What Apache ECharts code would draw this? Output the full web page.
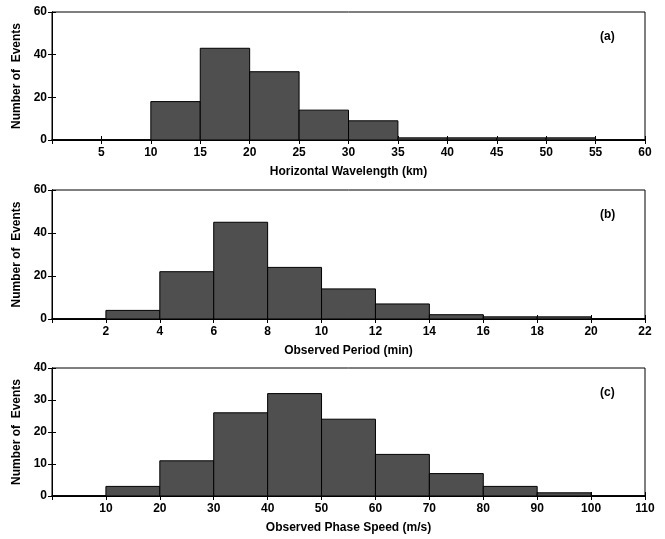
<!DOCTYPE html>
<html>
<head>
<meta charset="utf-8">
<script src="https://cdn.jsdelivr.net/npm/echarts@6/dist/echarts.min.js"></script>
<style>
html,body{margin:0;padding:0;background:#fff;}
#main{width:665px;height:539px;}
</style>
</head>
<body>
<div id="main"></div>
<script>
// bin edges and counts for each panel
var wavelengthEdges = [0, 5, 10, 15, 20, 25, 30, 35, 40, 45, 50, 55, 60];
var wavelengthCounts = [0, 0, 18, 43, 32, 14, 9, 1, 1, 1, 1, 0];

var periodEdges = [0, 2, 4, 6, 8, 10, 12, 14, 16, 18, 20, 22];
var periodCounts = [0, 4, 22, 45, 24, 14, 7, 2, 1, 1, 0];

var speedEdges = [0, 10, 20, 30, 40, 50, 60, 70, 80, 90, 100, 110];
var speedCounts = [0, 3, 11, 26, 32, 24, 13, 7, 3, 1, 0];

var panelLabels = ['(a)', '(b)', '(c)'];
var xNames = ['Horizontal Wavelength (km)', 'Observed Period (min)', 'Observed Phase Speed (m/s)'];

var panels = [
  {edges: wavelengthEdges, counts: wavelengthCounts, xStep: 5, yMax: 60, yStep: 20, top: 12, height: 128},
  {edges: periodEdges, counts: periodCounts, xStep: 2, yMax: 60, yStep: 20, top: 190, height: 129},
  {edges: speedEdges, counts: speedCounts, xStep: 10, yMax: 40, yStep: 10, top: 368, height: 128}
];

var font = 'Liberation Sans, Arial, sans-serif';
var myChart = echarts.init(document.getElementById('main'));

var grid = [], xAxis = [], yAxis = [], series = [], graphic = [];

panels.forEach(function(p, i){
  var xMax = p.edges[p.edges.length - 1];
  grid.push({left: 52, right: 20, top: p.top, height: p.height, show: true, borderColor: '#000', borderWidth: 1});
  // bottom axis with labels
  xAxis.push({
    type: 'value', gridIndex: i, min: 0, max: xMax, interval: p.xStep, position: 'bottom',
    axisLine: {lineStyle: {color: '#000', width: 1.5}},
    axisTick: {inside: true, length: 4, lineStyle: {color: '#000'}},
    axisLabel: {showMinLabel: false, color: '#000', fontWeight: 'bold', fontSize: 12, fontFamily: font, margin: 7},
    splitLine: {show: false},
    name: xNames[i], nameLocation: 'middle', nameGap: 26,
    nameTextStyle: {color: '#000', fontWeight: 'bold', fontSize: 12, fontFamily: font}
  });
  // top mirror axis (ticks only)
  xAxis.push({
    type: 'value', gridIndex: i, min: 0, max: xMax, interval: p.xStep, position: 'top',
    axisLine: {lineStyle: {color: '#000'}},
    axisTick: {inside: true, length: 4, lineStyle: {color: '#000'}},
    axisLabel: {show: false}, splitLine: {show: false}
  });
  yAxis.push({
    type: 'value', gridIndex: i, min: 0, max: p.yMax, interval: p.yStep, position: 'left',
    axisLine: {show: true, lineStyle: {color: '#000'}},
    axisTick: {show: true, inside: true, length: 4, lineStyle: {color: '#000'}},
    axisLabel: {color: '#000', fontWeight: 'bold', fontSize: 12, fontFamily: font, margin: 5},
    splitLine: {show: false},
    name: 'Number of  Events', nameLocation: 'middle', nameGap: 27,
    nameTextStyle: {color: '#000', fontWeight: 'bold', fontSize: 12, fontFamily: font}
  });
  yAxis.push({
    type: 'value', gridIndex: i, min: 0, max: p.yMax, interval: p.yStep, position: 'right',
    axisLine: {show: true, lineStyle: {color: '#000'}},
    axisTick: {show: true, inside: true, length: 4, lineStyle: {color: '#000'}},
    axisLabel: {show: false}, splitLine: {show: false}
  });

  var data = p.counts.map(function(c, k){ return [p.edges[k], p.edges[k + 1], c]; });
  series.push({
    type: 'custom',
    xAxisIndex: i * 2,
    yAxisIndex: i * 2,
    data: data,
    renderItem: function(params, api){
      var a = api.coord([api.value(0), api.value(2)]);
      var b = api.coord([api.value(1), 0]);
      return {
        type: 'rect',
        shape: {x: a[0], y: a[1], width: b[0] - a[0], height: b[1] - a[1]},
        style: {fill: '#4f4f4f', stroke: '#000', lineWidth: 1}
      };
    }
  });

  graphic.push({
    type: 'text', left: 600, top: p.top + 19,
    style: {text: panelLabels[i], fill: '#000', font: 'bold 12px ' + font}
  });
});

var option = {
  backgroundColor: '#fff',
  animation: false,
  grid: grid,
  xAxis: xAxis,
  yAxis: yAxis,
  series: series,
  graphic: graphic
};

myChart.setOption(option);
</script>
</body>
</html>
